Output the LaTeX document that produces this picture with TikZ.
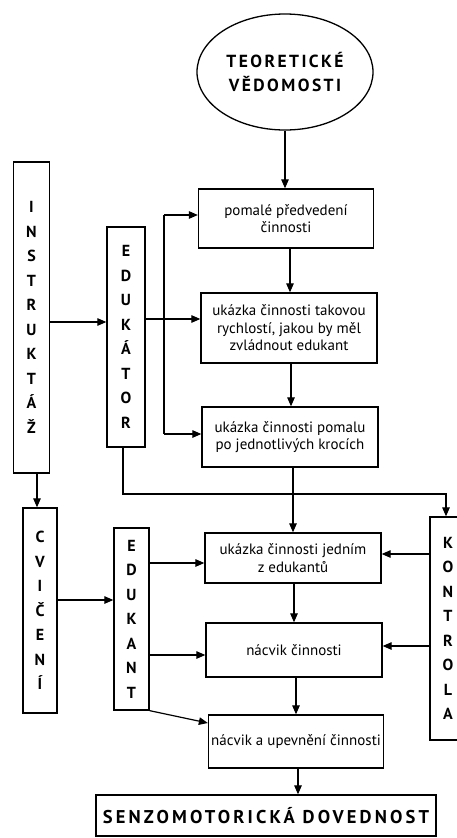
\documentclass[tikz,border=0pt]{standalone}
\usepackage{fontspec}
\setmainfont{PT Sans}
\newfontfamily\capsfont[LetterSpace=14]{PT Sans Bold}
\newfontfamily\bigcapsfont[LetterSpace=17]{PT Sans Bold}
\newfontfamily\vertfont{PT Sans Bold}
\usetikzlibrary{shapes.geometric,arrows.meta}
\begin{document}
\begin{tikzpicture}[x=1pt,y=-1pt,
  box/.style={draw,line width=1.3pt,inner sep=0pt,align=center,
    font=\fontsize{15}{17.5}\selectfont},
  vbox/.style={draw,line width=1.3pt,inner sep=0pt,align=center,
    font=\vertfont\fontsize{16}{24.5}\selectfont},
  arr/.style={line width=1.2pt,-{Triangle[length=9pt,width=7.5pt]}},
  ln/.style={line width=1.2pt}]
\useasboundingbox (0,0) rectangle (457,838);
% main column
\node[draw,line width=1.3pt,ellipse,minimum width=176pt,minimum height=116pt,inner sep=0pt,align=center,
  font=\capsfont\fontsize{17.5}{24}\selectfont] (ell) at (285,72) {TEORETICKÉ\\VĚDOMOSTI};
\node[box,minimum width=175pt,minimum height=59pt] (b1) at (286,218.5) {pomalé předvedení\\činnosti};
\node[box,minimum width=176pt,minimum height=70pt] (b2) at (289,328) {ukázka činnosti takovou\\rychlostí, jakou by měl\\zvládnout edukant};
\node[box,minimum width=176pt,minimum height=60pt] (b3) at (290,437) {ukázka činnosti pomalu\\po jednotlivých krocích};
\node[box,minimum width=176pt,minimum height=50pt] (b4) at (293,558) {ukázka činnosti jedním\\z edukantů};
\node[box,minimum width=176pt,minimum height=54pt] (b5) at (294,650) {nácvik činnosti};
\node[box,minimum width=175pt,minimum height=53pt] (b6) at (296,741.5) {nácvik a upevnění činnosti};
\node[draw,line width=1.3pt,minimum width=340pt,minimum height=41pt,inner sep=0pt,
  font=\bigcapsfont\fontsize{18.5}{20}\selectfont] (b7) at (266,815.5) {SENZOMOTORICKÁ DOVEDNOST};
% vertical boxes
\node[vbox,minimum width=36pt,minimum height=311pt] (ins) at (31.5,317.5) {I\\N\\S\\T\\R\\U\\K\\T\\Á\\Ž};
\node[vbox,minimum width=38pt,minimum height=220pt] (edr) at (126,337) {E\\D\\U\\K\\Á\\T\\O\\R};
\node[vbox,minimum width=34pt,minimum height=205pt] (cvi) at (40,610.5) {C\\V\\I\\Č\\E\\N\\Í};
\node[vbox,minimum width=35pt,minimum height=182pt] (edn) at (131.5,619) {E\\D\\U\\K\\A\\N\\T};
\node[vbox,minimum width=36pt,minimum height=223pt,text width=33pt] (kon) at (448,628.5) {K\\O\\N\\T\\R\\O\\L\\A};
% main flow
\draw[arr] (ell.south) -- (ell.south |- b1.north);
\draw[arr] (b1.south -| 290,0) -- (b2.north -| 290,0);
\draw[arr] (b2.south -| 291,0) -- (b3.north -| 291,0);
\draw[arr] (b3.south -| 293,0) -- (b4.north -| 293,0);
\draw[arr] (b4.south -| 294,0) -- (b5.north -| 294,0);
\draw[arr] (b5.south -| 296,0) -- (b6.north -| 296,0);
\draw[arr] (b6.south -| 298,0) -- (b7.north -| 298,0);
% instruktaz / edukator
\draw[arr] (ins.east |- 0,322) -- (edr.west |- 0,322);
\draw[arr] (edr.east |- 0,319) -- (b2.west |- 0,319);
\coordinate (vt) at (164,215);
\coordinate (vb) at (164,434);
\draw[ln] (vt) -- (vb);
\draw[arr] (vt) -- (b1.west |- vt);
\draw[arr] (vb) -- (b3.west |- vb);
\draw[arr] (ins.south -| 37,0) -- (cvi.north -| 37,0);
\coordinate (kr) at (446,494);
\draw[arr] (edr.south -| 123,0) |- (kr) -- (kon.north -| kr);
% cviceni / edukant
\draw[arr] (cvi.east |- 0,600) -- (edn.west |- 0,600);
\draw[arr] (edn.east |- 0,563) -- (b4.west |- 0,563);
\draw[arr] (edn.east |- 0,655) -- (b5.west |- 0,655);
\draw[arr] (edn.south east) -- (b6.west |- 0,723);
% kontrola
\draw[arr] (kon.west |- 0,554) -- (b4.east |- 0,554);
\draw[arr] (kon.west |- 0,646) -- (b5.east |- 0,646);
\end{tikzpicture}
\end{document}
